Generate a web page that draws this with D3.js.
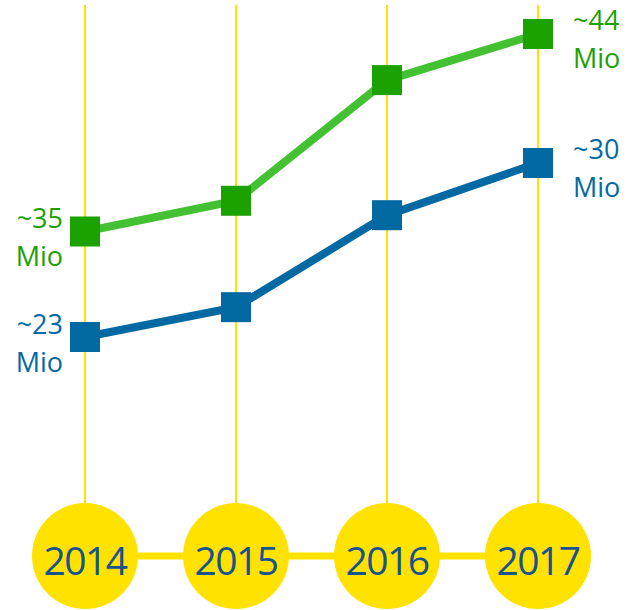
<!DOCTYPE html>
<html>
<head>
<meta charset="utf-8">
<script src="https://cdn.jsdelivr.net/npm/d3@7"></script>
<style>
  body { margin: 0; background: #fff; }
  svg { display: block; font-family: "Open Sans", sans-serif; }
</style>
</head>
<body>
<div id="chart"></div>
<script>
const years = ["2014", "2015", "2016", "2017"];
const greenValues = [35, 36.4, 41.9, 44];
const blueValues = [23, 24.2, 27.9, 30];
const unit = "Mio";

const width = 628, height = 610;

const svg = d3.select("#chart")
    .append("svg")
    .attr("width", width)
    .attr("height", height);

const x = d3.scalePoint()
    .domain(years)
    .range([85, 538]);

// the infographic is not drawn to one scale, so each series gets its own
const yGreen = d3.scaleLinear().domain([35, 44]).range([231.5, 34]);
const yBlue = d3.scaleLinear().domain([23, 30]).range([337, 163]);

const yellow = "#ffe200";
const circleY = 556, circleR = 53;

// vertical guides
svg.selectAll(".guide")
    .data(years)
    .enter()
    .append("line")
    .attr("class", "guide")
    .attr("x1", d => x(d))
    .attr("x2", d => x(d))
    .attr("y1", 5)
    .attr("y2", circleY)
    .attr("stroke", yellow)
    .attr("stroke-width", 2);

// connector between the year circles
svg.append("line")
    .attr("x1", x(years[0]))
    .attr("x2", x(years[years.length - 1]))
    .attr("y1", circleY)
    .attr("y2", circleY)
    .attr("stroke", yellow)
    .attr("stroke-width", 7);

svg.selectAll(".yearCircle")
    .data(years)
    .enter()
    .append("circle")
    .attr("class", "yearCircle")
    .attr("cx", d => x(d))
    .attr("cy", circleY)
    .attr("r", circleR)
    .attr("fill", yellow);

svg.selectAll(".yearLabel")
    .data(years)
    .enter()
    .append("text")
    .attr("class", "yearLabel")
    .attr("x", d => x(d))
    .attr("y", 575)
    .attr("text-anchor", "middle")
    .attr("font-size", 39)
    .attr("letter-spacing", -1.5)
    .attr("fill", "#18528f")
    .text(d => d);

const series = [
    { values: greenValues, y: yGreen, line: "#44c133", mark: "#1ba100" },
    { values: blueValues, y: yBlue, line: "#0369a3", mark: "#0369a3" }
];

const size = 30;

series.forEach(s => {
    const pts = years.map((yr, i) => ({ year: yr, value: s.values[i] }));

    svg.append("path")
        .datum(pts)
        .attr("fill", "none")
        .attr("stroke", s.line)
        .attr("stroke-width", 8)
        .attr("d", d3.line().x(d => x(d.year)).y(d => s.y(d.value)));

    svg.selectAll(null)
        .data(pts)
        .enter()
        .append("rect")
        .attr("x", d => x(d.year) - size / 2)
        .attr("y", d => s.y(d.value) - size / 2)
        .attr("width", size)
        .attr("height", size)
        .attr("fill", s.mark);

    // value labels at first and last point
    const ends = [
        { p: pts[0], dx: -22, anchor: "end" },
        { p: pts[pts.length - 1], dx: 35, anchor: "start" }
    ];
    ends.forEach(e => {
        const t = svg.append("text")
            .attr("text-anchor", e.anchor)
            .attr("font-size", 27)
            .attr("fill", s.mark);
        const cx = x(e.p.year) + e.dx;
        const cy = s.y(e.p.value) - 4 - (e.anchor === "start" ? 0 : -0.5);
        t.append("tspan").attr("x", cx).attr("y", cy).text("~" + Math.round(e.p.value));
        t.append("tspan").attr("x", cx).attr("y", cy + 38).text(unit);
    });
});
</script>
</body>
</html>
